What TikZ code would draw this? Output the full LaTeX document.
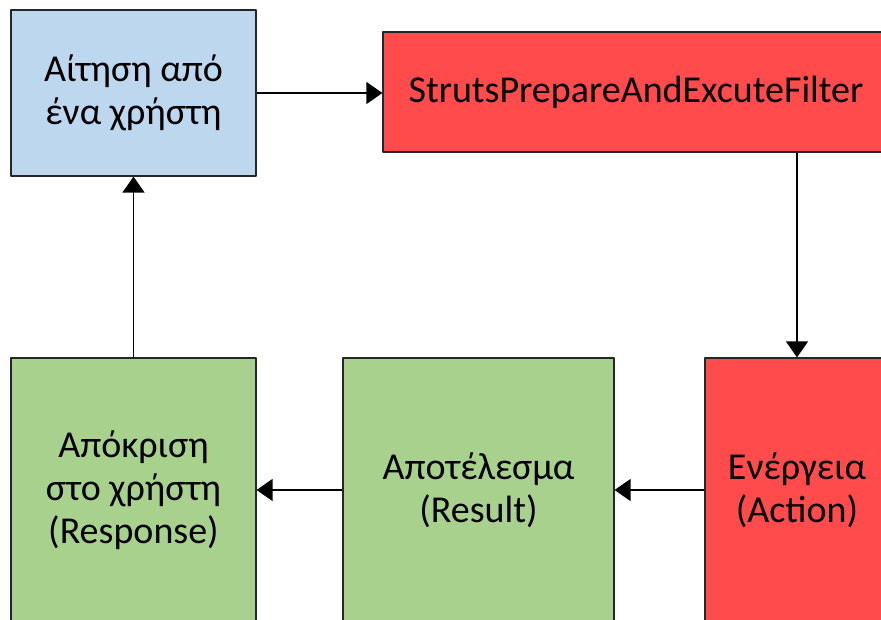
\documentclass[tikz,border=0pt]{standalone}
\usepackage{fontspec}
\setmainfont{Carlito}
\usetikzlibrary{arrows.meta}
\definecolor{boxblue}{HTML}{BDD7EE}
\definecolor{boxred}{HTML}{FF4B4B}
\definecolor{boxgreen}{HTML}{A9D18E}
\begin{document}
\begin{tikzpicture}[x=1pt,y=-1pt, line join=round, >={Triangle[length=16pt,width=22pt]},
	box/.style={draw=black!85, line width=1.2pt, align=center, inner sep=0pt,
		font=\fontsize{38}{43}\selectfont},
	flow/.style={->, line width=1.3pt}]
	\useasboundingbox (0,0) rectangle (881,619);
	\clip (0,0) rectangle (881,619);
	% Κουτιά
	\node[box, fill=boxblue, minimum width=245pt, minimum height=166pt] (request) at (133.5,93) {Αίτηση από\\ένα χρήστη};
	\node[box, fill=boxred, minimum width=506pt, minimum height=120pt] (filter) at (636,92) {StrutsPrepareAndExcuteFilter};
	\node[box, fill=boxred, minimum width=184pt, minimum height=264pt] (action) at (797,490) {Ενέργεια\\(Action)};
	\node[box, fill=boxgreen, minimum width=271pt, minimum height=264pt] (result) at (478.5,490) {Αποτέλεσμα\\(Result)};
	\node[box, fill=boxgreen, minimum width=245pt, minimum height=264pt] (response) at (133.5,490) {Απόκριση\\στο χρήστη\\(Response)};
	% Βέλη
	\draw[flow] (request.east) -- (request.east -| filter.west);
	\draw[flow] (filter.south -| action.north) -- (action.north);
	\draw[flow] (action.west) -- (result.east);
	\draw[flow] (result.west) -- (response.east);
	\draw[flow] (response.north) -- (request.south);
\end{tikzpicture}
\end{document}
